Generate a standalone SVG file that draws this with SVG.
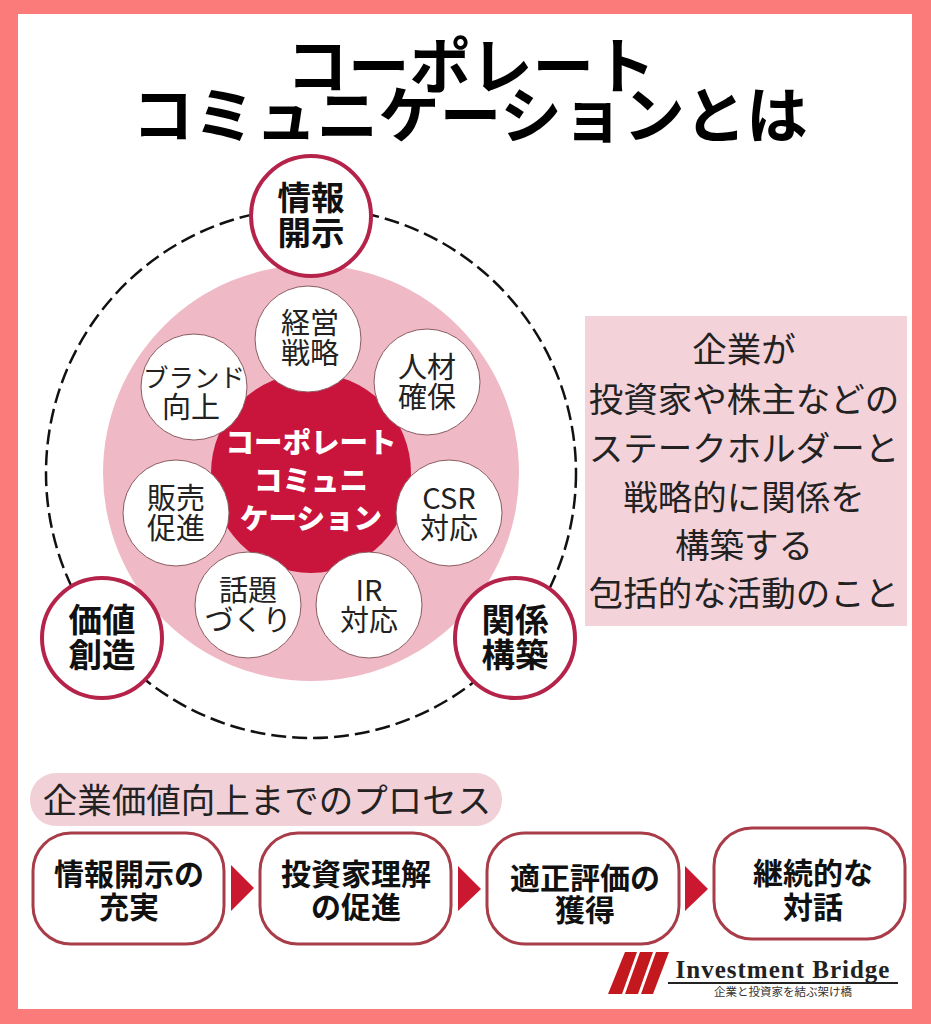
<svg xmlns="http://www.w3.org/2000/svg" width="931" height="1024" viewBox="0 0 931 1024">
<style>
text{font-family:"Noto Sans CJK JP","Noto Sans",sans-serif;text-anchor:middle;fill:#111}
.title{font-size:61.5px;font-weight:700;fill:#000}
.big{font-size:33.5px;font-weight:700}
.small{font-size:29px;font-weight:400;fill:#222}
.core{font-size:28.5px;font-weight:900;fill:#fff}
.desc{font-size:34.5px;font-weight:400;fill:#222}
.proc{font-size:30px;font-weight:700}
.wc{fill:#fff;stroke:#8a5a60;stroke-width:1}
.rc{fill:#fff;stroke:#b5234a;stroke-width:4}
.box{fill:#fff;stroke:#a83c48;stroke-width:3}
.arr{fill:#c9182f}
</style>
<rect width="931" height="1024" fill="#fb7b7b"/>
<rect x="18" y="14" width="894" height="995" fill="#fff"/>
<text class="title" x="471" y="89">コーポレート</text>
<text class="title" x="470" y="138">コミュニケーションとは</text>
<g id="connectors">
<circle cx="311" cy="473" r="265" fill="none" stroke="#111" stroke-width="2.5" stroke-dasharray="15 6"/>
<path class="arr" d="M231 865L254 888L231 911Z"/>
<path class="arr" d="M458 866L481 889L458 911Z"/>
<path class="arr" d="M685 866L708 889L685 911Z"/>
</g>
<g id="ring"><circle cx="311" cy="473" r="208" fill="#efb9c6"/></g>
<g id="core"><circle cx="311" cy="473" r="100" fill="#c9153c"/>
<text class="core" x="311" y="453">コーポレート</text>
<text class="core" x="311" y="491">コミュニ</text>
<text class="core" x="311" y="529">ケーション</text></g>
<g id="n-keiei"><circle class="wc" cx="308" cy="339" r="53"/><text class="small" x="310" y="334">経営</text><text class="small" x="310" y="364">戦略</text></g>
<g id="n-jinzai"><circle class="wc" cx="427" cy="382" r="53"/><text class="small" x="427" y="378">人材</text><text class="small" x="427" y="408">確保</text></g>
<g id="n-brand"><circle class="wc" cx="194" cy="387" r="53"/><text x="194" y="387" style="font-size:25.5px;fill:#222">ブランド</text><text class="small" x="191" y="418">向上</text></g>
<g id="n-hanbai"><circle class="wc" cx="176" cy="513" r="53"/><text class="small" x="176" y="509">販売</text><text class="small" x="176" y="539">促進</text></g>
<g id="n-csr"><circle class="wc" cx="449" cy="513" r="53"/><text class="small" x="449" y="509">CSR</text><text class="small" x="449" y="539">対応</text></g>
<g id="n-wadai"><circle class="wc" cx="248" cy="605" r="53"/><text class="small" x="248" y="601">話題</text><text class="small" x="248" y="631">づくり</text></g>
<g id="n-ir"><circle class="wc" cx="369" cy="605" r="53"/><text class="small" x="369" y="601">IR</text><text class="small" x="369" y="631">対応</text></g>
<g id="n-joho"><circle class="rc" cx="311" cy="216" r="60"/><text class="big" x="311" y="210">情報</text><text class="big" x="311" y="245">開示</text></g>
<g id="n-kachi"><circle class="rc" cx="102" cy="638" r="60"/><text class="big" x="102" y="632">価値</text><text class="big" x="102" y="667">創造</text></g>
<g id="n-kankei"><circle class="rc" cx="515" cy="638" r="60"/><text class="big" x="515" y="632">関係</text><text class="big" x="515" y="667">構築</text></g>
<g id="desc"><rect x="585" y="316" width="322" height="310" fill="#f4d2da"/>
<text class="desc" x="744" y="362">企業が</text>
<text class="desc" x="744" y="412">投資家や株主などの</text>
<text class="desc" x="744" y="461">ステークホルダーと</text>
<text class="desc" x="744" y="510">戦略的に関係を</text>
<text class="desc" x="744" y="558">構築する</text>
<text class="desc" x="744" y="606">包括的な活動のこと</text></g>
<g id="proc-title"><rect x="30" y="773" width="472" height="53" rx="26" fill="#f1d0d8"/>
<text x="267" y="813" style="font-size:34.5px;fill:#222">企業価値向上までのプロセス</text></g>
<g id="p1"><rect class="box" x="33" y="833" width="191" height="111" rx="38"/><text class="proc" x="129" y="885">情報開示の</text><text class="proc" x="129" y="918">充実</text></g>
<g id="p2"><rect class="box" x="260" y="833" width="191" height="111" rx="38"/><text class="proc" x="356" y="885">投資家理解</text><text class="proc" x="356" y="918">の促進</text></g>
<g id="p3"><rect class="box" x="487" y="833" width="192" height="111" rx="38"/><text class="proc" x="585" y="889">適正評価の</text><text class="proc" x="585" y="921">獲得</text></g>
<g id="p4"><rect class="box" x="714" y="828" width="191" height="111" rx="38"/><text class="proc" x="813" y="884">継続的な</text><text class="proc" x="813" y="918">対話</text></g>
<g id="logo">
<path fill="#c4181f" d="M625 952H637L622 994H608ZM640 952H653L638 994H625ZM656 952H669L653 994H641Z"/>
<path d="M668 983H898" stroke="#222" stroke-width="2"/>
<text x="783" y="978" style="font-family:'Liberation Serif',serif;font-weight:700;font-size:25px;letter-spacing:1px;fill:#222">Investment Bridge</text>
<text x="783" y="996" style="font-size:11.5px;fill:#333">企業と投資家を結ぶ架け橋</text>
</g>
</svg>
